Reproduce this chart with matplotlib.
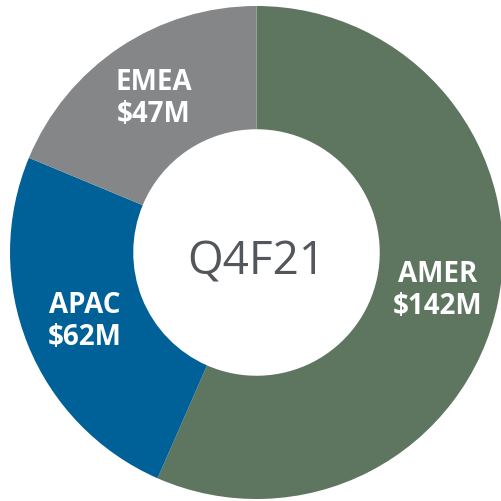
import numpy as np
import matplotlib
matplotlib.use("Agg")
import matplotlib.pyplot as plt

regions = ["AMER", "APAC", "EMEA"]
revenue = [142, 62, 47]  # $M
colors = ["#5E7560", "#006098", "#858688"]
center_label = "Q4F21"

fig = plt.figure(figsize=(5.02, 5.01), dpi=100)
ax = fig.add_axes([0, 0, 1, 1])

wedges, _ = ax.pie(revenue, colors=colors, startangle=90, counterclock=False,
                   radius=1.0, wedgeprops=dict(width=0.5, linewidth=0))

# labels in the middle of the ring
for w, name, val in zip(wedges, regions, revenue):
    ang = np.deg2rad((w.theta1 + w.theta2) / 2)
    r = 0.75
    ax.text(r * np.cos(ang), r * np.sin(ang), f"{name}\n${val}M",
            ha="center", va="center", color="white", fontsize=20,
            fontweight="bold", family="Open Sans", linespacing=1.15)

ax.text(0, -0.091, center_label, ha="center", va="baseline",
        color="#53565A", fontsize=33, family="Open Sans")

ax.set_aspect("auto")
ax.set_xlim(-1.0406, 0.996)
ax.set_ylim(-1.0081, 1.0243)
ax.axis("off")

fig.savefig("out.png", dpi=100)
